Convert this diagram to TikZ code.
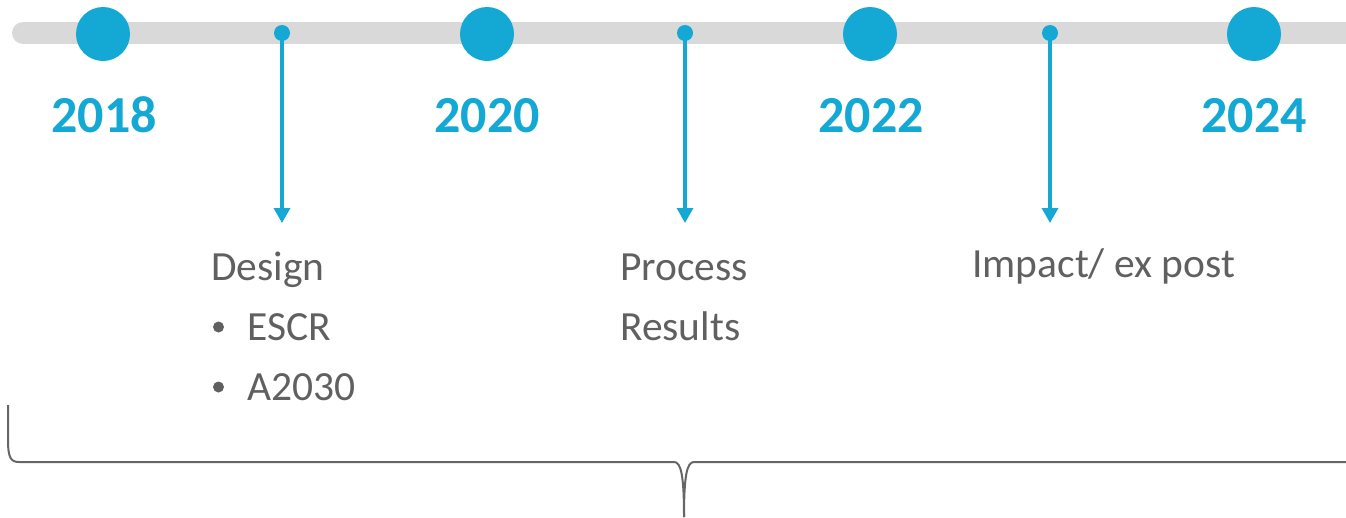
\documentclass[tikz,border=0pt]{standalone}
\usepackage{fontspec}
\setmainfont{Carlito}
\usetikzlibrary{arrows.meta}
\definecolor{tlblue}{RGB}{20,169,212}
\definecolor{bargray}{RGB}{217,217,217}
\definecolor{txtgray}{RGB}{96,96,96}
\definecolor{bracegray}{RGB}{102,102,102}
\tikzset{
  bigdot/.style={circle,fill=tlblue,inner sep=0pt,minimum size=54pt},
  smalldot/.style={circle,fill=tlblue,inner sep=0pt,minimum size=16pt},
  bulletdot/.style={circle,fill=txtgray,inner sep=0pt,minimum size=11pt},
  yearlbl/.style={text=tlblue,font=\fontsize{52}{60}\selectfont\bfseries,inner sep=0pt,anchor=base},
  desc/.style={text=txtgray,font=\fontsize{41.5}{60}\selectfont,inner sep=0pt,anchor=base west},
  pointer/.style={draw=tlblue,line width=3.2pt,-{Triangle[width=16pt,length=15pt]}},
}
\begin{document}
\begin{tikzpicture}[x=1pt,y=-1pt]
\useasboundingbox (0,0) rectangle (1346,517);
% bar
\draw[bargray,line width=22pt,line cap=round] (23,33) -- (1360,33);
% big dots
\node[bigdot] (c18) at (103,34) {};
\node[bigdot] (c20) at (487,34) {};
\node[bigdot] (c22) at (870,34) {};
\node[bigdot] (c24) at (1254,34) {};
% years
\node[yearlbl] (y18) at (104,132) {2018};
\node[yearlbl] (y20) at (487,132) {2020};
\node[yearlbl] (y22) at (871,132) {2022};
\node[yearlbl] (y24) at (1254,132) {2024};
% small dots and arrows
\node[smalldot] (d1) at (282,33) {};
\node[smalldot] (d2) at (685,33) {};
\node[smalldot] (d3) at (1050,33) {};
\coordinate (e1) at (282,223);
\coordinate (e2) at (685,223);
\coordinate (e3) at (1050,223);
\draw[pointer] (d1.center) -- (e1);
\draw[pointer] (d2.center) -- (e2);
\draw[pointer] (d3.center) -- (e3);
% texts
\node[desc] (t1) at (211,280) {Design};
\node[bulletdot] (b1) at (218.5,327) {};
\node[desc] (t2) at (247,340) {ESCR};
\node[bulletdot] (b2) at (218.5,387) {};
\node[desc] (t3) at (247,400) {A2030};
\node[desc] (t4) at (620,280) {Process};
\node[desc] (t5) at (620,340) {Results};
\node[desc] (t6) at (972,277) {Impact/ ex post};
% brace
\draw[bracegray,line width=2pt]
  (8,405) -- (8,440) .. controls (8,458) and (11,462) .. (19,462)
  -- (674,462) .. controls (681,462) and (684,475) .. (684,517);
\draw[bracegray,line width=2pt]
  (1360,462) -- (694,462) .. controls (687,462) and (684,475) .. (684,517);
\end{tikzpicture}
\end{document}
